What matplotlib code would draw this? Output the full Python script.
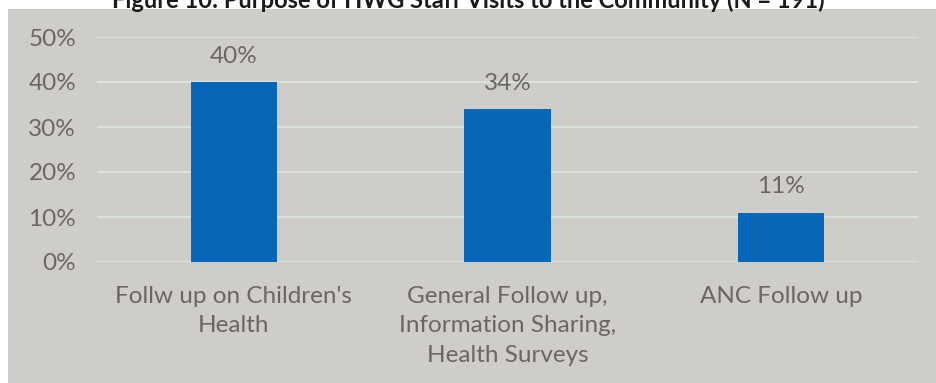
import matplotlib.pyplot as plt
import matplotlib.patches as mpatches
import numpy as np

categories = ["Follw up on Children's\nHealth",
              "General Follow up,\nInformation Sharing,\nHealth Surveys",
              "ANC Follow up"]
values = [0.40, 0.34, 0.11]
value_labels = ["40%", "34%", "11%"]
ytick_vals = [0, 0.1, 0.2, 0.3, 0.4, 0.5]
ytick_labels = ["0%", "10%", "20%", "30%", "40%", "50%"]

bg = '#cfcdc9'
txt = '#6b6760'
bar_col = '#0866b8'
grid_col = '#dce2dc'

plt.rcParams['font.family'] = ['Lato', 'DejaVu Sans']

fig = plt.figure(figsize=(9.37, 3.83), dpi=100)
fig.patch.set_facecolor('white')
fig.patches.append(mpatches.Rectangle((8 / 937, 0), 1, (383 - 9) / 383,
                                      transform=fig.transFigure, facecolor=bg,
                                      edgecolor='none', zorder=-10))

ax = fig.add_axes([97 / 937, (383 - 262) / 383, (918 - 97) / 937, (262 - 37) / 383])
ax.patch.set_alpha(0)

x = np.arange(len(categories))
ax.bar(x, values, width=0.315, color=bar_col, zorder=3)
for xi, v, lab in zip(x, values, value_labels):
    ax.annotate(lab, (xi, v), xytext=(0, 11), textcoords='offset points',
                ha='center', va='bottom', fontsize=17.5, color=txt)

ax.set_xlim(-0.5, 2.5)
ax.set_ylim(0, 0.5)
ax.set_yticks(ytick_vals)
ax.set_yticklabels(ytick_labels)
ax.set_xticks(x)
ax.set_xticklabels(categories, linespacing=1.5)
ax.tick_params(axis='y', length=0, pad=15, labelsize=17.5, labelcolor=txt)
ax.tick_params(axis='x', length=0, pad=17, labelsize=17.5, labelcolor=txt)
ax.grid(axis='y', color=grid_col, linewidth=1.5, zorder=0)
for s in ax.spines.values():
    s.set_visible(False)

fig.text(0.5, 1.0, "Figure 10: Purpose of HWG Staff Visits to the Community (N = 191)",
         ha='center', va='center', fontsize=17, fontweight='bold', color='#1a1a1a')

fig.savefig('out.png', dpi=100)
